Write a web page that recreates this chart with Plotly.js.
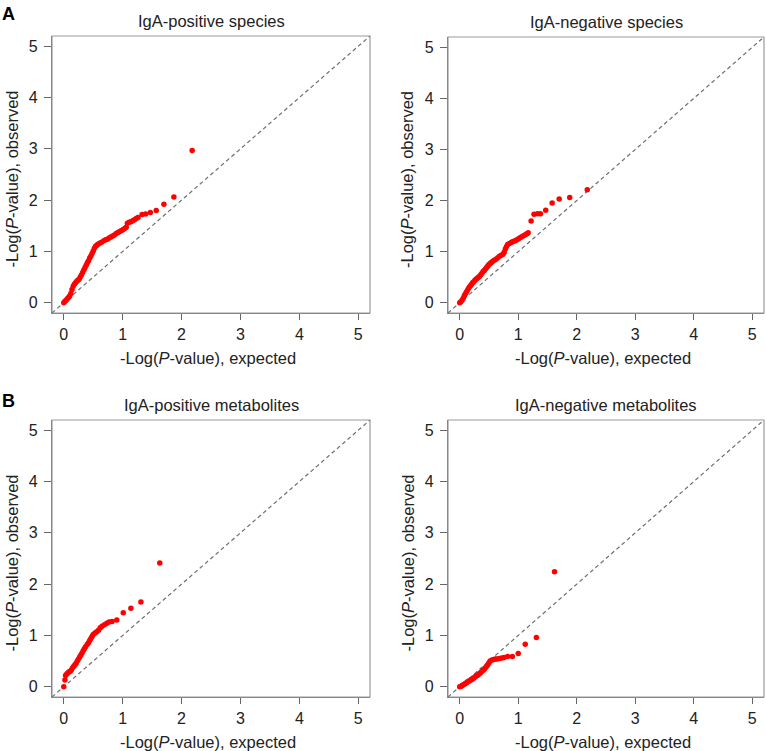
<!DOCTYPE html>
<html>
<head>
<meta charset="utf-8">
<script src="https://cdn.plot.ly/plotly-3.0.1.min.js"></script>
<style>html,body{margin:0;padding:0;background:#fff;}#chart{width:766px;height:751px;}</style>
</head>
<body>
<div id="chart"></div>
<script>
// ---- Data ----
const panelTitles = ["IgA-positive species", "IgA-negative species", "IgA-positive metabolites", "IgA-negative metabolites"];
const tickVals = [0, 1, 2, 3, 4, 5];
const tickLabels = ["0", "1", "2", "3", "4", "5"];
const refLineX = [-0.2, 5.2];
const refLineY = [-0.2, 5.2];

const posSpeciesExp = [0.00,0.02,0.04,0.06,0.08,0.10,0.12,0.14,0.16,0.18,0.20,0.22,0.24,0.26,0.28,0.30,0.32,0.34,0.36,0.38,0.40,0.42,0.44,0.46,0.48,0.50,0.52,0.54,0.56,0.58,0.61,0.64,0.68,0.71,0.74,0.77,0.80,0.83,0.86,0.89,0.92,0.95,0.98,1.01,1.04,1.06,1.08,1.11,1.14,1.17,1.20,1.23,1.26,1.33,1.39,1.47,1.57,1.70,1.87,2.18];
const posSpeciesObs = [0.00,0.03,0.05,0.08,0.10,0.13,0.18,0.26,0.32,0.36,0.39,0.42,0.44,0.46,0.50,0.54,0.59,0.64,0.68,0.73,0.78,0.82,0.87,0.91,0.96,1.01,1.06,1.10,1.12,1.14,1.16,1.18,1.21,1.23,1.24,1.26,1.28,1.30,1.32,1.35,1.37,1.39,1.41,1.43,1.45,1.47,1.55,1.57,1.58,1.60,1.62,1.64,1.66,1.72,1.73,1.76,1.80,1.92,2.06,2.97];

const negSpeciesExp = [0.00,0.02,0.04,0.06,0.08,0.10,0.12,0.14,0.16,0.18,0.20,0.22,0.24,0.26,0.28,0.30,0.32,0.34,0.36,0.38,0.40,0.42,0.44,0.46,0.48,0.50,0.52,0.54,0.56,0.59,0.62,0.65,0.68,0.71,0.74,0.76,0.78,0.80,0.82,0.85,0.88,0.91,0.94,0.97,1.00,1.03,1.06,1.09,1.12,1.15,1.17,1.22,1.27,1.33,1.38,1.47,1.58,1.70,1.88,2.18];
const negSpeciesObs = [0.00,0.02,0.05,0.09,0.14,0.18,0.22,0.26,0.30,0.33,0.36,0.39,0.41,0.44,0.46,0.48,0.50,0.52,0.55,0.58,0.61,0.63,0.66,0.69,0.72,0.75,0.77,0.79,0.81,0.83,0.85,0.88,0.91,0.93,0.95,0.99,1.05,1.10,1.14,1.16,1.18,1.20,1.21,1.23,1.25,1.27,1.29,1.31,1.33,1.35,1.37,1.60,1.73,1.74,1.74,1.81,1.95,2.03,2.06,2.21];

const posMetabExp = [0.00,0.02,0.03,0.05,0.07,0.09,0.11,0.13,0.15,0.17,0.19,0.21,0.23,0.25,0.27,0.29,0.31,0.33,0.35,0.37,0.40,0.42,0.44,0.46,0.48,0.50,0.53,0.56,0.59,0.62,0.65,0.69,0.73,0.77,0.82,0.90,1.01,1.14,1.31,1.63];
const posMetabObs = [0.00,0.13,0.22,0.25,0.27,0.29,0.30,0.33,0.37,0.40,0.43,0.46,0.50,0.54,0.58,0.62,0.66,0.70,0.74,0.78,0.83,0.86,0.90,0.94,0.98,1.02,1.05,1.07,1.10,1.15,1.18,1.21,1.24,1.26,1.27,1.30,1.44,1.53,1.65,2.41];

const negMetabExp = [0.00,0.02,0.04,0.06,0.08,0.10,0.12,0.14,0.16,0.18,0.20,0.22,0.24,0.26,0.28,0.30,0.32,0.34,0.36,0.38,0.40,0.42,0.44,0.46,0.48,0.50,0.52,0.55,0.58,0.61,0.64,0.68,0.72,0.76,0.82,0.90,1.00,1.12,1.31,1.62];
const negMetabObs = [0.00,0.01,0.02,0.04,0.05,0.07,0.08,0.10,0.11,0.12,0.14,0.15,0.17,0.19,0.21,0.22,0.24,0.26,0.28,0.30,0.32,0.34,0.37,0.40,0.43,0.47,0.50,0.52,0.53,0.54,0.54,0.55,0.56,0.57,0.59,0.59,0.65,0.83,0.96,2.24];

const seriesX = [posSpeciesExp, negSpeciesExp, posMetabExp, negMetabExp];
const seriesY = [posSpeciesObs, negSpeciesObs, posMetabObs, negMetabObs];

// ---- Layout geometry ----
const W = 766, H = 751;
const boxes = [
  {l: 52, r: 370, t: 36, b: 313},
  {l: 448, r: 764, t: 37, b: 313},
  {l: 52, r: 370, t: 420, b: 697},
  {l: 448, r: 764, t: 420, b: 697}
];
const FONT = "Liberation Sans, Arial, Helvetica, sans-serif";

const traces = [];
const layout = {
  width: W, height: H,
  margin: {l: 0, r: 0, t: 0, b: 0},
  paper_bgcolor: "#fff", plot_bgcolor: "#fff",
  showlegend: false,
  font: {family: FONT, color: "#222", size: 16},
  shapes: [], annotations: []
};

boxes.forEach((bx, i) => {
  const n = i === 0 ? "" : String(i + 1);
  const xa = "x" + n, ya = "y" + n;
  traces.push({
    x: refLineX, y: refLineY, xaxis: xa, yaxis: ya,
    mode: "lines", type: "scatter", hoverinfo: "skip",
    line: {color: "#6e6e6e", width: 1.2, dash: "4px,3px"}
  });
  traces.push({
    x: seriesX[i], y: seriesY[i], xaxis: xa, yaxis: ya,
    mode: "markers", type: "scatter",
    marker: {color: "#ff0000", size: 5.5, line: {width: 0}}
  });
  const axCommon = {
    range: [-0.2, 5.2], tickvals: tickVals, ticktext: tickLabels,
    ticks: "outside", ticklen: 7, tickwidth: 1, tickcolor: "#666",
    showgrid: false, zeroline: false,
    showline: true, linecolor: "#888", linewidth: 1.2,
    tickfont: {family: FONT, size: 16, color: "#222"},
    fixedrange: true
  };
  layout["xaxis" + n] = Object.assign({}, axCommon, {
    domain: [bx.l / W, bx.r / W], anchor: ya, ticklen: 6, ticklabelstandoff: 1
  });
  layout["yaxis" + n] = Object.assign({}, axCommon, {
    domain: [1 - bx.b / H, 1 - bx.t / H], anchor: xa, ticklabelstandoff: 3
  });
  layout.shapes.push({
    type: "rect", xref: "paper", yref: "paper",
    x0: bx.l / W, x1: bx.r / W, y0: 1 - bx.b / H, y1: 1 - bx.t / H,
    line: {color: "#9a9a9a", width: 1.2}, layer: "below"
  });
  const cx = (bx.l + bx.r) / 2;
  // panel title
  layout.annotations.push({
    xref: "paper", yref: "paper", x: cx / W, y: 1 - (bx.t - 15) / H,
    text: panelTitles[i], showarrow: false, xanchor: "center", yanchor: "middle",
    font: {family: FONT, size: 16.5, color: "#222"}
  });
  // x axis title
  layout.annotations.push({
    xref: "paper", yref: "paper", x: (cx - 3) / W, y: 1 - (bx.b + 45) / H,
    text: "-Log(<i>P</i>-value), expected", showarrow: false, xanchor: "center", yanchor: "middle",
    font: {family: FONT, size: 16.5, color: "#222"}
  });
  // y axis title
  layout.annotations.push({
    xref: "paper", yref: "paper", x: (bx.l - 41) / W, y: 1 - ((bx.t + bx.b) / 2 + 5) / H,
    text: "-Log(<i>P</i>-value), observed", showarrow: false, textangle: -90,
    xanchor: "center", yanchor: "middle",
    font: {family: FONT, size: 16.5, color: "#222"}
  });
});

// panel letters
layout.annotations.push({
  xref: "paper", yref: "paper", x: 8.5 / W, y: 1 - 13.5 / H, text: "<b>A</b>",
  showarrow: false, xanchor: "center", yanchor: "middle",
  font: {family: FONT, size: 18, color: "#000"}
});
layout.annotations.push({
  xref: "paper", yref: "paper", x: 8.5 / W, y: 1 - 401 / H, text: "<b>B</b>",
  showarrow: false, xanchor: "center", yanchor: "middle",
  font: {family: FONT, size: 18, color: "#000"}
});

Plotly.newPlot("chart", traces, layout, {displayModeBar: false, staticPlot: true});
</script>
</body>
</html>
